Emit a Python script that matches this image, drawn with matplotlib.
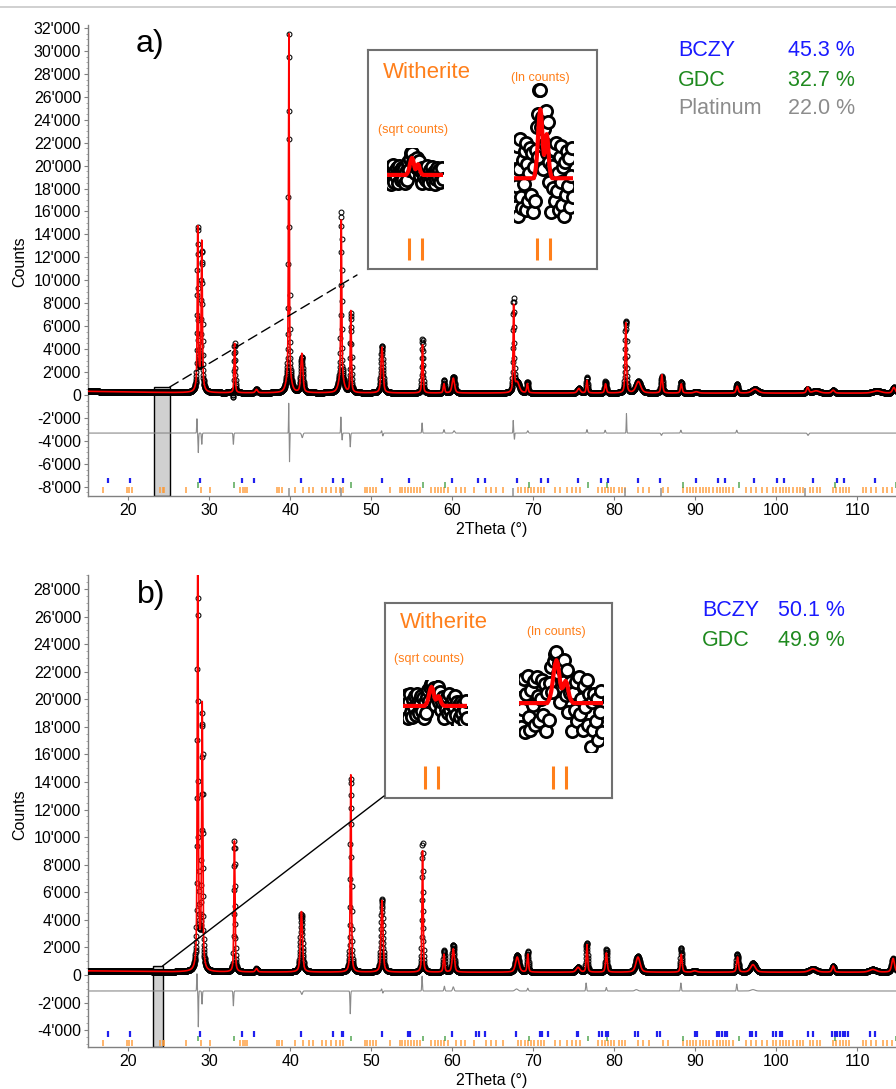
import numpy as np
import matplotlib
matplotlib.use("Agg")
import matplotlib.pyplot as plt
from matplotlib.ticker import FuncFormatter, MultipleLocator, AutoMinorLocator
from matplotlib.patches import Rectangle, ConnectionPatch
from matplotlib.lines import Line2D

plt.rcParams['font.family'] = ['Liberation Sans', 'DejaVu Sans']
plt.rcParams['axes.unicode_minus'] = False

# ---------------- data ----------------
# background nodes (2theta, counts)
bg_x = [15, 20, 25, 30, 40, 60, 80, 100, 115]
bg_a = [320, 260, 210, 190, 180, 170, 170, 160, 160]
bg_b = [300, 270, 230, 215, 210, 200, 200, 200, 200]

# panel a) calculated peaks
pk_pos_a = [28.55, 29.05, 28.8, 33.1, 35.8, 39.8, 39.8, 41.4, 46.27, 46.27, 47.45, 51.3, 56.3,
            58.95, 60.1, 67.55, 68.0, 69.25, 75.6, 76.6, 78.9, 81.4, 82.95, 85.85, 88.25, 90.1,
            95.15, 97.35, 103.85, 104.9, 107.0, 112.4, 114.5]
pk_h_a = [13800, 12500, 1200, 4300, 300, 30000, 1300, 3400, 14000, 1300, 7200, 4000, 4200,
          800, 1300, 7600, 900, 800, 400, 1100, 800, 6100, 1000, 1600, 800, 120,
          600, 350, 500, 200, 250, 200, 500]
pk_w_a = [0.07, 0.08, 0.35, 0.08, 0.15, 0.06, 0.35, 0.15, 0.07, 0.35, 0.08, 0.15, 0.09,
          0.1, 0.18, 0.08, 0.3, 0.1, 0.2, 0.1, 0.12, 0.1, 0.35, 0.12, 0.12, 0.3,
          0.14, 0.45, 0.15, 0.5, 0.2, 0.6, 0.2]
# panel a) observed - calculated features
df_pos_a = [28.45, 28.62, 29.05, 32.95, 39.78, 39.88, 41.45, 46.22, 46.38, 47.38, 51.25, 51.4,
            56.25, 58.95, 60.2, 67.5, 67.65, 69.3, 76.6, 78.85, 81.48, 85.8, 88.2, 95.1, 103.9]
df_amp_a = [1300, -1700, -1000, -1000, 2600, -2500, -400, 1400, -600, -1200, 200, -250,
            900, 300, 200, 1100, -550, 200, 300, 250, 1700, -200, 250, 250, -200]
df_w_a = [0.04, 0.04, 0.05, 0.05, 0.03, 0.03, 0.1, 0.04, 0.04, 0.05, 0.06, 0.06,
          0.05, 0.07, 0.1, 0.04, 0.04, 0.08, 0.06, 0.07, 0.04, 0.08, 0.07, 0.07, 0.1]
diff_offset_a = -3320

# panel b) calculated peaks
pk_pos_b = [28.55, 29.1, 28.8, 33.08, 35.8, 41.35, 47.45, 51.3, 56.3, 58.95, 60.1, 68.0, 69.3,
            75.5, 76.6, 79.0, 82.9, 88.25, 89.9, 95.2, 97.1, 104.5, 107.0, 111.9, 114.4]
pk_h_b = [30000, 18500, 1500, 9500, 250, 4400, 14500, 5200, 8800, 1300, 1700, 1100, 1300,
          350, 2000, 1400, 1100, 1300, 100, 1100, 550, 250, 450, 200, 1000]
pk_w_b = [0.07, 0.08, 0.35, 0.08, 0.15, 0.15, 0.08, 0.14, 0.08, 0.1, 0.16, 0.25, 0.1,
          0.25, 0.1, 0.12, 0.3, 0.12, 0.3, 0.13, 0.35, 0.5, 0.15, 0.5, 0.2]
df_pos_b = [28.45, 28.62, 29.08, 32.95, 41.4, 47.38, 51.25, 51.4, 56.25, 59.0, 60.1, 67.9,
            69.3, 76.5, 79.0, 82.7, 88.2, 95.1, 97.1]
df_amp_b = [1300, -2600, -950, -1100, -250, -1650, 150, -150, 1100, 350, 300, 150,
            200, 580, 250, 100, 580, 500, 100]
df_w_b = [0.04, 0.04, 0.05, 0.05, 0.1, 0.05, 0.06, 0.06, 0.05, 0.07, 0.1, 0.2,
          0.08, 0.06, 0.07, 0.2, 0.06, 0.06, 0.3]
diff_offset_b = -1160

# reflection markers
bczy_a = [17.47, 20.19, 28.83, 34.01, 35.49, 41.30, 45.25, 46.48, 51.30, 54.63, 59.94, 63.15,
          63.99, 67.96, 70.9, 71.8, 75.5, 78.3, 79.2, 82.9, 85.6, 90.1, 92.8, 93.7, 97.2,
          100.1, 100.9, 104.5, 107.5, 108.3, 112.2]
bczy_b = [17.5, 20.2, 28.8, 34.0, 35.5, 41.3, 45.25, 46.3, 46.5, 51.3, 54.5, 54.75, 59.9,
          62.9, 63.3, 64.0, 67.9, 70.8, 71.1, 71.8, 75.4, 75.5, 78.1, 78.4, 79.0, 79.2,
          82.5, 82.9, 85.2, 85.6, 89.9, 90.2, 92.6, 92.9, 93.3, 93.7, 93.9, 96.7, 97.0,
          97.5, 99.6, 99.9, 100.4, 100.7, 103.9, 104.5, 106.9, 107.2, 107.5, 107.9, 108.2,
          108.5, 108.8, 111.6, 112.2]
gdc = [28.55, 33.08, 47.48, 56.33, 59.08, 69.40, 76.70, 79.07, 88.41, 95.39, 107.27, 114.79]
platinum = [39.76, 46.24, 67.45, 81.28, 85.71, 103.5]
witherite = [16.8, 19.8, 20.1, 20.4, 23.9, 24.2, 24.4, 27.1, 29.0, 30.1, 33.8, 34.1, 34.4,
             34.6, 38.3, 38.6, 38.9, 40.6, 41.5, 42.3, 42.8, 43.9, 44.4, 45.0, 45.6, 46.1,
             46.5, 49.2, 49.5, 49.8, 50.2, 50.5, 52.3, 53.5, 53.8, 54.1, 54.5, 54.9, 55.3,
             55.6, 56.0, 57.4, 57.8, 58.2, 58.6, 59.0, 59.4, 60.4, 61.0, 61.6, 62.6, 64.2,
             64.8, 65.4, 66.2, 68.1, 68.5, 68.9, 69.3, 69.7, 70.1, 70.5, 70.9, 71.3, 72.7,
             73.3, 74.1, 74.7, 75.3, 75.7, 78.0, 78.4, 78.8, 79.2, 79.6, 80.0, 80.5, 80.9,
             81.3, 82.9, 83.5, 84.3, 86.0, 86.6, 88.5, 88.9, 89.3, 89.7, 90.1, 90.5, 90.9,
             91.3, 91.7, 92.2, 92.6, 93.0, 93.4, 93.8, 94.2, 94.6, 96.3, 96.9, 97.5, 98.2,
             98.8, 99.6, 100.0, 100.4, 100.8, 101.2, 101.6, 102.1, 102.5, 102.9, 103.3,
             104.1, 104.5, 105.0, 105.4, 107.0, 107.4, 107.8, 108.2, 108.6, 109.0, 110.7,
             111.1, 111.7, 112.3, 113.1, 113.7, 114.3]

# zoomed Witherite region (counts) for the insets
ins_calc_a = [300] * 22 + [302, 305, 310, 318, 328, 336, 340, 337, 328, 318, 313, 315, 321, 325,
                           322, 314, 307, 303, 301] + [300] * 23
ins_obs_a = [312, 285, 296, 318, 280, 305, 322, 290, 284, 310, 297, 315, 283, 320, 308, 288,
             303, 317, 291, 314, 282, 306, 288, 316, 329, 312, 337, 352, 352, 329, 335, 305,
             328, 319, 339, 314, 332, 298, 309, 316, 282, 307, 295, 316, 288, 320, 293, 303,
             283, 312, 298, 318, 286, 306, 280, 309, 291, 315, 296, 311, 285, 301, 317, 290]
ins_calc_b = [250] * 22 + [252, 255, 260, 268, 278, 286, 290, 287, 278, 268, 263, 264, 268, 270,
                           268, 262, 256, 253, 251] + [250] * 23
ins_obs_b = [265, 230, 245, 272, 226, 258, 275, 238, 228, 262, 248, 270, 232, 274, 256, 235,
             254, 271, 240, 267, 227, 259, 236, 268, 283, 260, 289, 296, 298, 277, 287, 251,
             281, 269, 290, 257, 280, 242, 259, 269, 227, 259, 244, 269, 235, 274, 241, 254,
             228, 265, 247, 271, 232, 258, 215, 251, 228, 258, 235, 254, 220, 242, 261, 226]

phases_a = [("BCZY", "45.3 %", "#1a1aff"), ("GDC", "32.7 %", "#1f8a1f"), ("Platinum", "22.0 %", "#8c8c8c")]
phases_b = [("BCZY", "50.1 %", "#1a1aff"), ("GDC", "49.9 %", "#1f8a1f")]

XMIN, XMAX, STEP = 15.0, 114.76, 0.02


def pv(x, pos, h, w):
    d = (x - pos) / w
    return h * (0.5 * np.exp(-np.log(2) * d * d) + 0.5 / (1 + d * d))


def gauss(x, pos, a, w):
    d = (x - pos) / w
    return a * np.exp(-np.log(2) * d * d)


def build(bg, pos, h, w, dpos, damp, dw):
    x = np.arange(XMIN, XMAX + 1e-9, STEP)
    calc = np.interp(x, bg_x, bg)
    for p, hh, ww in zip(pos, h, w):
        calc = calc + pv(x, p, hh, ww)
    diff = np.zeros_like(x)
    for p, a, ww in zip(dpos, damp, dw):
        diff = diff + gauss(x, p, a, ww)
    return x, calc, calc + diff, diff


def thousands(v, pos):
    return f"{int(round(v)):,}".replace(",", "'")


W, H = 896, 1089


def fx(px):
    return px / W


def fy(py):
    return 1 - py / H


fig = plt.figure(figsize=(W / 100, H / 100), dpi=100)
fig.add_artist(Line2D([0, 1], [fy(7), fy(7)], color="#c8c8c8", lw=1.2))


def panel(top, bottom, ylim, data, diff_off, bczy, rows, rect, yticks_range):
    ax = fig.add_axes([fx(88), fy(bottom), fx(896 - 88), (bottom - top) / H])
    x, calc, obs, diff = data
    ax.plot(x, obs, 'o', ms=3.5, mfc='none', mec='black', mew=0.75, zorder=3)
    ax.plot(x, calc, color='red', lw=1.2, zorder=4)
    ax.plot(x, diff_off + diff, color='#8a8a8a', lw=0.8, zorder=3)
    (yb0, yb1), (yg0, yg1), (yw0, yw1), (yp0, yp1) = rows
    ax.vlines(witherite, yw0, yw1, color='#ff9933', lw=1.2, alpha=0.85, zorder=2)
    if yp0 is not None:
        ax.vlines(platinum, yp0, yp1, color='#9a9a9a', lw=1.2, zorder=2)
    ax.vlines(gdc, yg0, yg1, color='#3a9a3a', lw=1.2, alpha=0.8, zorder=2)
    ax.vlines(bczy, yb0, yb1, color='#2020ee', lw=1.6, zorder=2)
    rx0, rx1, ry1 = rect
    r = Rectangle((rx0, ylim[0]), rx1 - rx0, ry1 - ylim[0], facecolor='#d0d0d0',
                  edgecolor='black', lw=1.0, zorder=1)
    ax.add_patch(r)
    ax.set_xlim(XMIN, XMAX)
    ax.set_ylim(*ylim)
    ax.set_yticks(np.arange(yticks_range[0], yticks_range[1] + 1, 2000))
    ax.yaxis.set_minor_locator(AutoMinorLocator(4))
    ax.xaxis.set_major_locator(MultipleLocator(10))
    ax.yaxis.set_major_formatter(FuncFormatter(thousands))
    for s in ['top', 'right']:
        ax.spines[s].set_visible(False)
    for s in ['left', 'bottom']:
        ax.spines[s].set_color('#808080')
        ax.spines[s].set_linewidth(1.0)
    ax.tick_params(axis='both', which='major', direction='out', length=3, width=0.8,
                   color='#808080', labelsize=11.5, pad=2)
    ax.tick_params(axis='y', which='minor', direction='out', length=1.5, width=0.6, color='#a0a0a0')
    ax.set_xlabel("2Theta (°)", fontsize=11.5, labelpad=3)
    return ax


data_a = build(bg_a, pk_pos_a, pk_h_a, pk_w_a, df_pos_a, df_amp_a, df_w_a)
data_b = build(bg_b, pk_pos_b, pk_h_b, pk_w_b, df_pos_b, df_amp_b, df_w_b)

ax1 = panel(25, 496, (-8806, 32260), data_a, diff_offset_a, bczy_a,
            ((-7660, -7220), (-8120, -7600), (-8560, -8030), (-8806, -8150)),
            (23.15, 25.1, 700), (-8000, 32000))
ax2 = panel(575, 1047, (-5223, 29016), data_b, diff_offset_b, bczy_b,
            ((-4500, -4060), (-4780, -4420), (-5140, -4710), (None, None)),
            (23.05, 24.2, 650), (-4000, 28000))

fig.text(fx(20), fy(262), "Counts", rotation=90, ha='center', va='center', fontsize=11.5)
fig.text(fx(20), fy(815), "Counts", rotation=90, ha='center', va='center', fontsize=11.5)
fig.text(fx(150), fy(44), "a)", ha='center', va='center', fontsize=23)
fig.text(fx(151), fy(595), "b)", ha='center', va='center', fontsize=23)

for i, (name, pct, col) in enumerate(phases_a):
    yy = [50, 80, 108][i]
    fig.text(fx(678), fy(yy), name, color=col, fontsize=15.5, ha='left', va='center')
    fig.text(fx(788), fy(yy), pct, color=col, fontsize=15.5, ha='left', va='center')
for i, (name, pct, col) in enumerate(phases_b):
    yy = [610, 640][i]
    fig.text(fx(702), fy(yy), name, color=col, fontsize=15.5, ha='left', va='center')
    fig.text(fx(778), fy(yy), pct, color=col, fontsize=15.5, ha='left', va='center')


def inset(box, txt, sq_box, sq_ylim, ln_box, ln_ylim, ticks, obs, calc):
    l, t, r, b = box
    ia = fig.add_axes([fx(l), fy(b), fx(r - l), (b - t) / H])
    ia.set_xlim(l, r)
    ia.set_ylim(b, t)
    ia.set_xticks([])
    ia.set_yticks([])
    for s in ia.spines.values():
        s.set_color('#707070')
        s.set_linewidth(1.5)
    (wx, wy), (lx, ly), (sx, sy) = txt
    ia.text(wx, wy, "Witherite", color='#ff7f1a', fontsize=16, ha='left', va='center')
    ia.text(lx, ly, "(ln counts)", color='#ff7f1a', fontsize=9, ha='left', va='center')
    ia.text(sx, sy, "(sqrt counts)", color='#ff7f1a', fontsize=9, ha='left', va='center')
    (t1, t2, ty0, ty1) = ticks
    ia.vlines(t1, ty0, ty1, color='#ff7f1a', lw=2.2)
    ia.vlines(t2, ty0, ty1, color='#ff7f1a', lw=2.2)
    idx = np.arange(len(obs))
    obs = np.array(obs, float)
    calc = np.array(calc, float)
    for bx, yl, fn in ((sq_box, sq_ylim, np.sqrt), (ln_box, ln_ylim, np.log)):
        bl, bt, br, bb = bx
        ca = fig.add_axes([fx(bl), fy(bb), fx(br - bl), (bb - bt) / H])
        ca.plot(idx, fn(obs), 'o', ms=8.8, mfc='white', mec='black', mew=2.0)
        ca.plot(idx, fn(calc), color='red', lw=3.0)
        ca.set_xlim(-0.5, len(obs) - 0.5)
        ca.set_ylim(*yl)
        ca.axis('off')
    return ia


ins_a = inset((368, 50, 597, 269), ((383, 72), (511, 78), (378, 130)),
              (387, 148, 443, 192), (16.20, 19.09), (514, 80, 573, 225), (5.619, 5.882),
              ([409, 422], [537, 550], 238, 260), ins_obs_a, ins_calc_a)
ins_b = inset((385, 603, 612, 798), ((400, 623), (527, 632), (394, 659)),
              (403, 680, 467, 725), (14.59, 17.47), (519, 640, 603, 752), (5.352, 5.740),
              ([425, 438], [553, 566], 766, 789), ins_obs_b, ins_calc_b)

con1 = ConnectionPatch(xyA=(25.1, 700), coordsA=ax1.transData,
                       xyB=(fx(357), fy(275)), coordsB=fig.transFigure,
                       color='black', lw=1.0, ls=(0, (7, 4)))
fig.add_artist(con1)
con2 = ConnectionPatch(xyA=(24.2, 650), coordsA=ax2.transData,
                       xyB=(fx(384), fy(796)), coordsB=fig.transFigure,
                       color='black', lw=1.0)
fig.add_artist(con2)

fig.savefig("out.png", dpi=100)
